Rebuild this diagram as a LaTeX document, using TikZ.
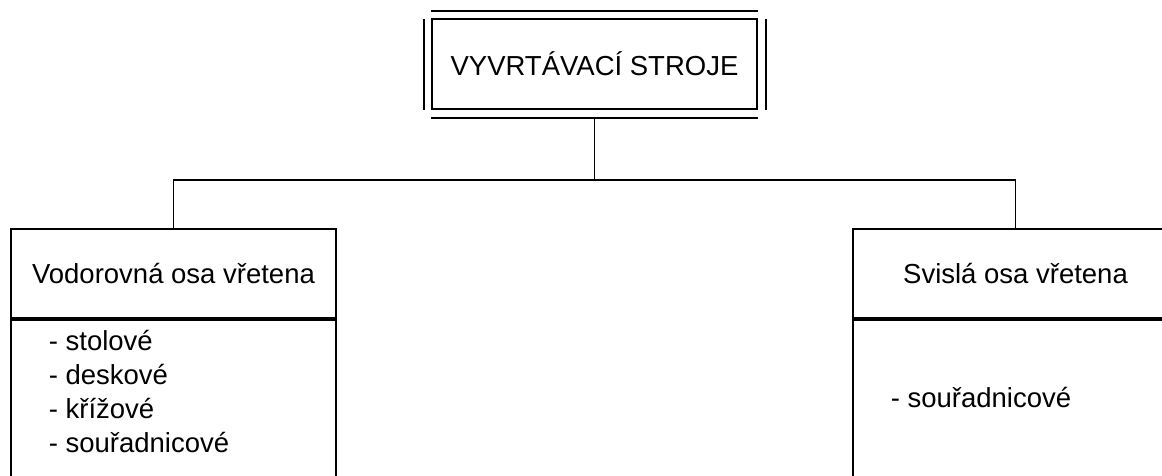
\documentclass[tikz,border=0pt]{standalone}
\usepackage{fontspec}
\setmainfont{Liberation Sans}
\begin{document}
\begin{tikzpicture}[x=1pt,y=-1pt,line width=1.7pt,
  box/.style={draw, minimum width=325pt, inner sep=0pt, font=\fontsize{27.5}{34}\selectfont},
  body/.style={draw, minimum width=325pt, minimum height=220pt, inner sep=0pt, anchor=north},
  txt/.style={anchor=base west, inner sep=0pt, font=\fontsize{27.5}{34}\selectfont}]
\useasboundingbox (0,0) rectangle (1162,475);
\clip (0,0) rectangle (1162,475);
\fill[white] (0,0) rectangle (1162,475);
% title box with its outer frame lines
\node[box, minimum height=90pt] (top) at (594.5,64) {VYVRTÁVACÍ STROJE};
\draw ([yshift=7pt]top.north west) -- ([yshift=7pt]top.north east);
\draw ([yshift=-8pt]top.south west) -- ([yshift=-8pt]top.south east);
\draw ([xshift=-7.5pt,yshift=-1pt]top.north west) -- ([xshift=-7.5pt]top.south west);
\draw ([xshift=8pt,yshift=-1pt]top.north east) -- ([xshift=8pt]top.south east);
% left and right boxes
\node[box, minimum height=89pt] (lh) at (173.5,273.5) {Vodorovná osa vřetena};
\node[body] (lb) at (lh.south) {};
\node[box, minimum height=89pt] (rh) at (1015.5,273.5) {Svislá osa vřetena};
\node[body] (rb) at (rh.south) {};
% list items
\node[txt] (l1) at (48,350) {- stolové};
\node[txt] (l2) at (48,384.5) {- deskové};
\node[txt] (l3) at (48,418.5) {- křížové};
\node[txt] (l4) at (48,452) {- souřadnicové};
\node[txt] (r1) at (890,407) {- souřadnicové};
% connectors
\coordinate (tb) at ([yshift=-8pt]top.south);
\coordinate (j) at (594.5,180);
\draw (tb) -- (j);
\draw (lh.north) -- (lh.north |- j) -- (rh.north |- j) -- (rh.north);
\end{tikzpicture}
\end{document}
